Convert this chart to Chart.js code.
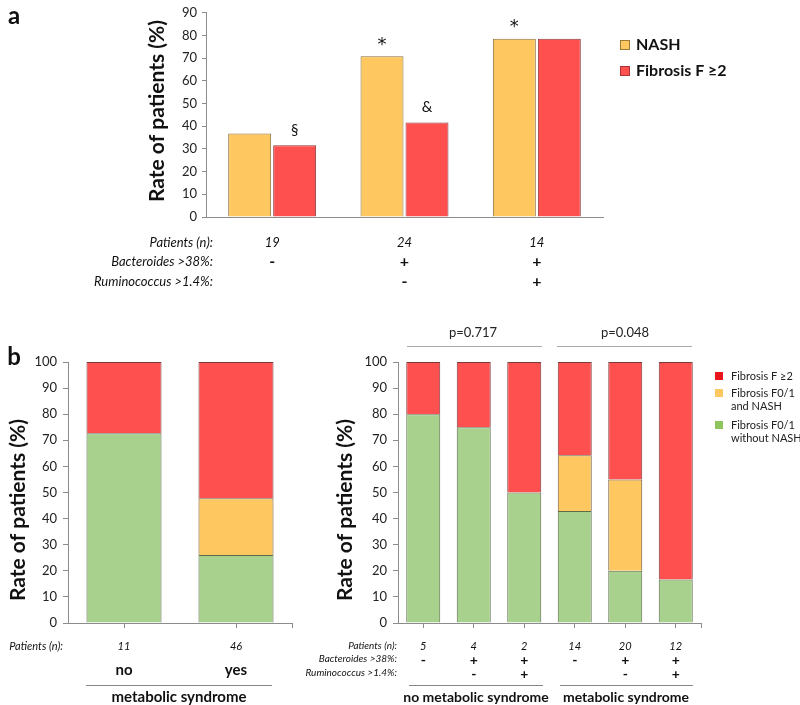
<!DOCTYPE html>
<html>
<head>
<meta charset="utf-8">
<script src="https://cdn.jsdelivr.net/npm/chart.js@4.4.1/dist/chart.umd.min.js"></script>
<style>
  html, body { margin: 0; padding: 0; background: #fff; }
  #wrap { position: relative; width: 800px; height: 705px; }
  #wrap canvas { position: absolute; left: 0; top: 0; }
</style>
</head>
<body>
<div id="wrap">
  <canvas id="chartA" width="800" height="705"></canvas>
  <canvas id="chartB1" width="800" height="705"></canvas>
  <canvas id="chartB2" width="800" height="705"></canvas>
</div>
<script>
// panel a
const groupsA = ['g1', 'g2', 'g3'];
const patientsA = ['19', '24', '14'];
const bacteroidesA = ['-', '+', '+'];
const ruminococcusA = ['', '-', '+'];
const nashA = [36.8, 70.8, 78.6];
const fibrosisA = [31.6, 41.7, 78.6];
const marksNashA = ['', '*', '*'];
const marksFibA = ['§', '&', ''];

// panel b, left
const syndromeB1 = ['no', 'yes'];
const patientsB1 = ['11', '46'];
const greenB1 = [72.7, 26.1];
const orangeB1 = [null, 21.7];
const redB1 = [27.3, 52.2];

// panel b, right
const groupsB2 = ['g1', 'g2', 'g3', 'g4', 'g5', 'g6'];
const patientsB2 = ['5', '4', '2', '14', '20', '12'];
const bacteroidesB2 = ['-', '+', '+', '-', '+', '+'];
const ruminococcusB2 = ['', '-', '+', '', '-', '+'];
const greenB2 = [80, 75, 50, 42.9, 20, 16.7];
const orangeB2 = [null, null, null, 21.4, 35, null];
const redB2 = [20, 25, 50, 35.7, 45, 83.3];

const FONT = 'Lato, "Noto Sans", sans-serif';
const ORANGE = '#FFC760';
const RED = '#FF5050';
const GREEN = '#A9D18E';
const AXIS = '#8c8c8c';

function txt(ctx, s, x, y, font, align, color) {
  ctx.save();
  ctx.font = font;
  ctx.fillStyle = color || '#111';
  ctx.textAlign = align || 'center';
  ctx.textBaseline = 'middle';
  ctx.fillText(s, x, y);
  ctx.restore();
}
function vtxt(ctx, s, x, y, font) {
  ctx.save();
  ctx.translate(x, y);
  ctx.rotate(-Math.PI / 2);
  txt(ctx, s, 0, 0, font);
  ctx.restore();
}
function hline(ctx, x1, x2, y, color) {
  ctx.save();
  ctx.strokeStyle = color || '#999';
  ctx.lineWidth = 1;
  ctx.beginPath();
  ctx.moveTo(x1, y + 0.5);
  ctx.lineTo(x2, y + 0.5);
  ctx.stroke();
  ctx.restore();
}
function endTick(chart) {
  const a = chart.chartArea, ctx = chart.ctx;
  ctx.save();
  ctx.strokeStyle = AXIS;
  ctx.beginPath();
  ctx.moveTo(Math.round(a.right) + 0.5, a.bottom);
  ctx.lineTo(Math.round(a.right) + 0.5, a.bottom + 5);
  ctx.stroke();
  ctx.restore();
}

function yAxis(max, width, tickLen, pad, size) {
  return {
    min: 0, max: max,
    ticks: { stepSize: 10, color: '#222', padding: pad, font: { family: FONT, size: size } },
    grid: { drawOnChartArea: false, drawTicks: true, tickLength: tickLen, color: AXIS },
    border: { color: AXIS },
    afterFit: s => { s.width = width; }
  };
}
function xAxis(ticks, stacked) {
  return {
    stacked: stacked,
    ticks: { display: false },
    grid: { offset: false, drawOnChartArea: false, drawTicks: ticks, tickLength: 5, color: AXIS },
    border: { color: AXIS },
    afterFit: s => { s.height = 0; }
  };
}

// ---- panel a ----
const annotA = {
  id: 'annotA',
  afterDraw(chart) {
    const ctx = chart.ctx, x = chart.scales.x;
    txt(ctx, 'a', 14, 16, 'bold 24px ' + FONT);
    vtxt(ctx, 'Rate of patients (%)', 157, 111, 'bold 21px ' + FONT);

    const nash = chart.getDatasetMeta(0).data, fib = chart.getDatasetMeta(1).data;
    groupsA.forEach((g, i) => {
      if (marksNashA[i]) txt(ctx, marksNashA[i], nash[i].x, nash[i].y - 11, '18px "DejaVu Sans", sans-serif');
      if (marksFibA[i]) txt(ctx, marksFibA[i], fib[i].x, fib[i].y - 15, '15px ' + FONT);
    });

    const it = 'italic 13px ' + FONT;
    txt(ctx, 'Patients (n):', 213, 243, it, 'right');
    txt(ctx, 'Bacteroides >38%:', 213, 262, it, 'right');
    txt(ctx, 'Ruminococcus >1.4%:', 213, 282, it, 'right');
    groupsA.forEach((g, i) => {
      const cx = x.getPixelForValue(i);
      txt(ctx, patientsA[i], cx, 243, it);
      txt(ctx, bacteroidesA[i], cx, 262, 'bold 16px ' + FONT);
      txt(ctx, ruminococcusA[i], cx, 282, 'bold 16px ' + FONT);
    });

    // legend
    const items = [['NASH', ORANGE, '#9a7b3c', 45], ['Fibrosis F \u22652', RED, '#a33', 71]];
    items.forEach(([label, fill, stroke, y]) => {
      ctx.fillStyle = fill;
      ctx.fillRect(620, y - 5, 10, 10);
      ctx.strokeStyle = stroke;
      ctx.strokeRect(620.5, y - 4.5, 9, 9);
      txt(ctx, label, 636, y, 'bold 16px ' + FONT, 'left');
    });
  }
};

new Chart(document.getElementById('chartA'), {
  type: 'bar',
  data: {
    labels: groupsA,
    datasets: [
      { label: 'NASH', data: nashA, backgroundColor: ORANGE, borderColor: '#8a6f3e', borderWidth: 1,
        categoryPercentage: 0.68, barPercentage: 0.955 },
      { label: 'Fibrosis F \u22652', data: fibrosisA, backgroundColor: RED, borderColor: '#8a3a3a', borderWidth: 1,
        categoryPercentage: 0.68, barPercentage: 0.955 }
    ]
  },
  options: {
    responsive: false,
    animation: false,
    layout: { autoPadding: false, padding: { left: 0, top: 5, right: 197, bottom: 488 } },
    plugins: { legend: { display: false }, tooltip: { enabled: false } },
    scales: {
      x: xAxis(false, false),
      y: yAxis(90, 206, 4, 5, 13)
    }
  },
  plugins: [annotA]
});

// ---- panel b, left ----
const annotB1 = {
  id: 'annotB1',
  afterDraw(chart) {
    const ctx = chart.ctx, x = chart.scales.x;
    endTick(chart);
    txt(ctx, 'b', 14, 357, 'bold 24px ' + FONT);
    vtxt(ctx, 'Rate of patients (%)', 18, 510, 'bold 21px ' + FONT);
    const it = 'italic 11px ' + FONT;
    txt(ctx, 'Patients (n):', 63, 646, it, 'right');
    syndromeB1.forEach((s, i) => {
      const cx = x.getPixelForValue(i);
      txt(ctx, patientsB1[i], cx, 646, it);
      txt(ctx, s, cx, 670, 'bold 15px ' + FONT);
    });
    hline(ctx, 86, 272, 685, '#888');
    txt(ctx, 'metabolic syndrome', 179, 697, 'bold 15px ' + FONT);
  }
};

function stackSets(green, orange, red, bp) {
  const common = { borderWidth: 1, categoryPercentage: 1, barPercentage: bp };
  return [
    Object.assign({ label: 'Fibrosis F0/1 without NASH', data: green, backgroundColor: GREEN, borderColor: '#5b6b4b' }, common),
    Object.assign({ label: 'Fibrosis F0/1 and NASH', data: orange, backgroundColor: ORANGE, borderColor: '#6b5b3b' }, common),
    Object.assign({ label: 'Fibrosis F \u22652', data: red, backgroundColor: RED, borderColor: '#7a3a3a' }, common)
  ];
}

new Chart(document.getElementById('chartB1'), {
  type: 'bar',
  data: { labels: syndromeB1, datasets: stackSets(greenB1, orangeB1, redB1, 0.67) },
  options: {
    responsive: false,
    animation: false,
    layout: { autoPadding: false, padding: { left: 0, top: 362, right: 508, bottom: 82 } },
    plugins: { legend: { display: false }, tooltip: { enabled: false } },
    scales: {
      x: xAxis(true, true),
      y: Object.assign(yAxis(100, 68, 5, 6, 13), { stacked: true })
    }
  },
  plugins: [annotB1]
});

// ---- panel b, right ----
const annotB2 = {
  id: 'annotB2',
  afterDraw(chart) {
    const ctx = chart.ctx, x = chart.scales.x;
    endTick(chart);
    vtxt(ctx, 'Rate of patients (%)', 345, 510, 'bold 21px ' + FONT);

    txt(ctx, 'p=0.717', 473, 333, '13px ' + FONT, 'center', '#222');
    txt(ctx, 'p=0.048', 625, 333, '13px ' + FONT, 'center', '#222');
    hline(ctx, 407, 542, 346, '#aaa');
    hline(ctx, 557, 692, 346, '#aaa');

    const it = 'italic 10px ' + FONT;
    txt(ctx, 'Patients (n):', 397, 646, it, 'right');
    txt(ctx, 'Bacteroides >38%:', 397, 659, it, 'right');
    txt(ctx, 'Ruminococcus >1.4%:', 397, 673, it, 'right');
    groupsB2.forEach((g, i) => {
      const cx = x.getPixelForValue(i);
      txt(ctx, patientsB2[i], cx, 646, 'italic 11px ' + FONT);
      txt(ctx, bacteroidesB2[i], cx, 660, 'bold 14px ' + FONT);
      txt(ctx, ruminococcusB2[i], cx, 674, 'bold 14px ' + FONT);
    });
    hline(ctx, 409, 543, 685, '#888');
    hline(ctx, 560, 693, 685, '#888');
    txt(ctx, 'no metabolic syndrome', 476, 697, 'bold 14px ' + FONT);
    txt(ctx, 'metabolic syndrome', 626, 697, 'bold 14px ' + FONT);

    // legend
    const items = [
      [['Fibrosis F \u22652'], '#E8141B', 376],
      [['Fibrosis F0/1', 'and NASH'], ORANGE, 393],
      [['Fibrosis F0/1', 'without NASH'], '#8EC35F', 425]
    ];
    items.forEach(([lines, fill, y]) => {
      ctx.fillStyle = fill;
      ctx.fillRect(715, y - 4, 8, 8);
      lines.forEach((l, k) => txt(ctx, l, 731, y + k * 13.5, '11px ' + FONT, 'left', '#222'));
    });
  }
};

new Chart(document.getElementById('chartB2'), {
  type: 'bar',
  data: { labels: groupsB2, datasets: stackSets(greenB2, orangeB2, redB2, 0.673) },
  options: {
    responsive: false,
    animation: false,
    layout: { autoPadding: false, padding: { left: 0, top: 362, right: 99, bottom: 82 } },
    plugins: { legend: { display: false }, tooltip: { enabled: false } },
    scales: {
      x: xAxis(true, true),
      y: Object.assign(yAxis(100, 398, 5, 6, 13), { stacked: true })
    }
  },
  plugins: [annotB2]
});
</script>
</body>
</html>
